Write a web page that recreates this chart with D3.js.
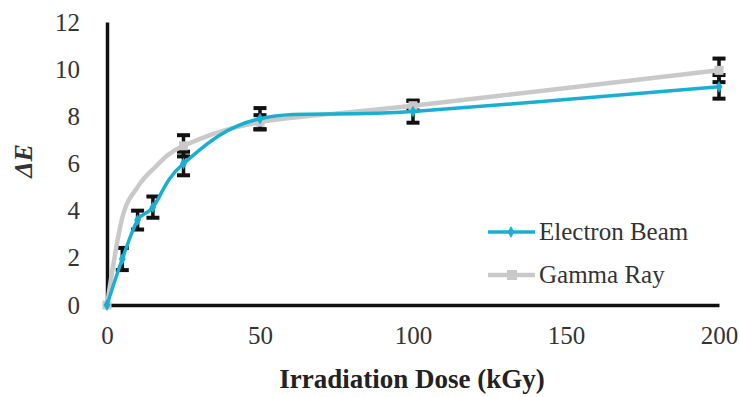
<!DOCTYPE html>
<html>
<head>
<meta charset="utf-8">
<script src="https://cdn.jsdelivr.net/npm/d3@7"></script>
<style>
  html, body { margin: 0; padding: 0; background: #fff; }
  svg { display: block; }
</style>
</head>
<body>
<svg id="chart" width="740" height="397"></svg>
<script>
// Colour change (ΔE) versus irradiation dose
const doses = [0, 5, 10, 15, 25, 50, 100, 200];
const electronBeam = [0, 1.95, 3.6, 4.15, 6.0, 7.9, 8.2, 9.25];
const electronErr = [0, 0.47, 0.4, 0.45, 0.5, 0.45, 0.47, 0.5];
const gammaRay = [0, 3.7, 5.0, 5.75, 6.75, 7.75, 8.45, 9.95];
const gammaErr = [0, null, null, null, 0.45, 0.3, 0.2, 0.5];
const xTicks = [0, 50, 100, 150, 200];
const yTicks = [0, 2, 4, 6, 8, 10, 12];
const seriesNames = ["Electron Beam", "Gamma Ray"];

const SERIF = "Liberation Serif";

const svg = d3.select("#chart");
const x = d3.scaleLinear().domain([0, 200]).range([107, 719]);
const y = d3.scaleLinear().domain([0, 12]).range([305, 22]);

const blue = "#1aaed2";
const grey = "#c9c9c9";
const textCol = "#333";

function serif(sel, size) {
  return sel.style("font-family", SERIF).style("font-size", size + "px");
}

// Axes (no tick marks, labels only)
const xAxis = svg.append("g").attr("transform", `translate(0,${y(0)})`)
  .call(d3.axisBottom(x).tickValues(xTicks).tickSize(0).tickPadding(21).tickFormat(d3.format("d")));
xAxis.select(".domain").attr("stroke", "#111").attr("stroke-width", 3.5);
serif(xAxis.selectAll("text"), 25).attr("fill", textCol);

const yAxis = svg.append("g").attr("transform", `translate(${x(0)},0)`)
  .call(d3.axisLeft(y).tickValues(yTicks).tickSize(0).tickPadding(27).tickFormat(d3.format("d")));
yAxis.select(".domain").attr("stroke", "#111").attr("stroke-width", 3.5);
serif(yAxis.selectAll("text"), 25).attr("fill", textCol);

// Axis titles
serif(svg.append("text"), 27)
  .attr("x", 412).attr("y", 388)
  .attr("text-anchor", "middle")
  .style("font-weight", "bold")
  .attr("fill", "#222")
  .text("Irradiation Dose (kGy)");

serif(svg.append("text"), 26)
  .attr("transform", "translate(32,161) rotate(-90)")
  .attr("text-anchor", "middle")
  .style("font-weight", "bold").style("font-style", "italic")
  .attr("fill", "#333")
  .text("ΔE");

// Smoothed line through the measured points
const line = d3.line().curve(d3.curveCardinal.tension(0))
  .x(d => x(d[0])).y(d => y(d[1]));

const gammaPts = doses.map((d, i) => ({ d, v: gammaRay[i], e: gammaErr[i] }));
const elecPts = doses.map((d, i) => ({ d, v: electronBeam[i], e: electronErr[i] }));

// Error bars
function errorBars(pts) {
  const data = pts.filter(p => p.e > 0);
  const g = svg.append("g").attr("stroke", "#111");
  g.selectAll(".v").data(data).join("line")
    .attr("stroke-width", 3.5)
    .attr("x1", p => x(p.d)).attr("x2", p => x(p.d))
    .attr("y1", p => y(p.v - p.e)).attr("y2", p => y(p.v + p.e));
  g.selectAll(".t").data(data).join("line")
    .attr("stroke-width", 4)
    .attr("x1", p => x(p.d) - 6.5).attr("x2", p => x(p.d) + 6.5)
    .attr("y1", p => y(p.v + p.e)).attr("y2", p => y(p.v + p.e));
  g.selectAll(".b").data(data).join("line")
    .attr("stroke-width", 4)
    .attr("x1", p => x(p.d) - 6.5).attr("x2", p => x(p.d) + 6.5)
    .attr("y1", p => y(p.v - p.e)).attr("y2", p => y(p.v - p.e));
}
errorBars(gammaPts);
errorBars(elecPts);

// Gamma ray series
svg.append("path").datum(gammaPts.map(p => [p.d, p.v])).attr("d", line)
  .attr("fill", "none").attr("stroke", grey).attr("stroke-width", 4.5);
svg.selectAll(".gm").data(gammaPts.filter(p => p.e !== null)).join("rect").attr("class", "gm")
  .attr("x", p => x(p.d) - 4.5).attr("y", p => y(p.v) - 4.5)
  .attr("width", 9).attr("height", 9).attr("fill", grey);

// Electron beam series
svg.append("path").datum(elecPts.map(p => [p.d, p.v])).attr("d", line)
  .attr("fill", "none").attr("stroke", blue).attr("stroke-width", 3.5);
svg.selectAll(".em").data(elecPts).join("path").attr("class", "em")
  .attr("d", d3.symbol(d3.symbolDiamond, 40))
  .attr("transform", p => `translate(${x(p.d)},${y(p.v)})`)
  .attr("fill", blue);

// Legend
const legend = svg.append("g");
const colors = [blue, grey];
seriesNames.forEach((name, i) => {
  const ly = 232 + i * 43;
  legend.append("line").attr("x1", 488).attr("x2", 535).attr("y1", ly).attr("y2", ly)
    .attr("stroke", colors[i]).attr("stroke-width", i === 0 ? 3.5 : 4.5);
  if (i === 0) {
    legend.append("path").attr("d", d3.symbol(d3.symbolDiamond, 40))
      .attr("transform", `translate(511,${ly})`).attr("fill", blue);
  } else {
    legend.append("rect").attr("x", 507).attr("y", ly - 5).attr("width", 10).attr("height", 10).attr("fill", grey);
  }
  serif(legend.append("text"), 25)
    .attr("x", 539).attr("y", ly + 8)
    .attr("fill", textCol).text(name);
});
</script>
</body>
</html>
